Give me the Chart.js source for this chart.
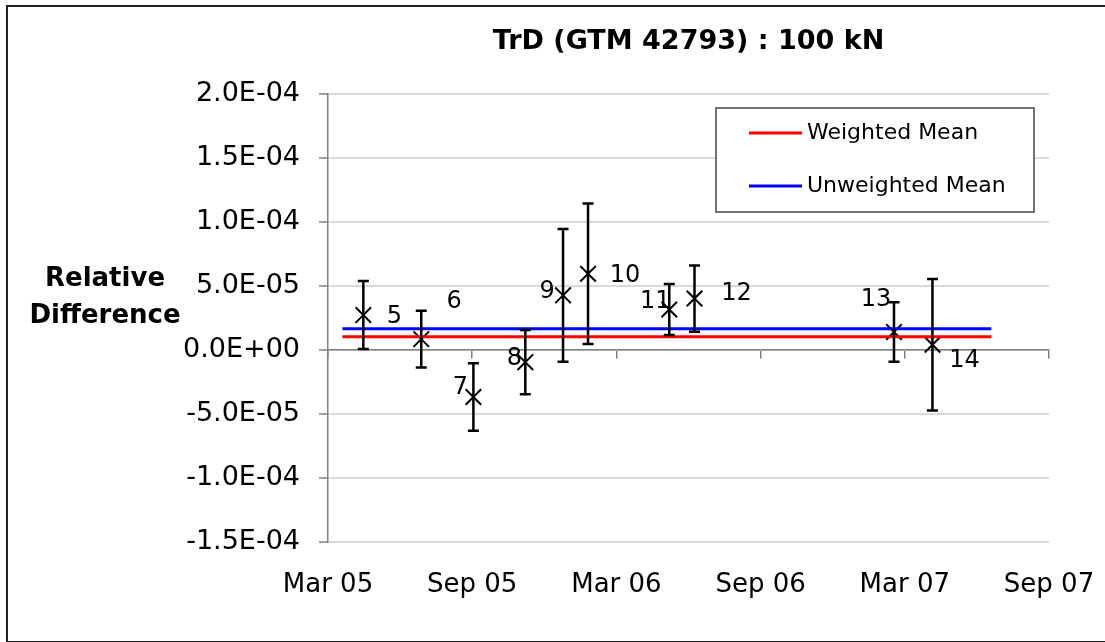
<!DOCTYPE html>
<html>
<head>
<meta charset="utf-8">
<style>
  html, body { margin: 0; padding: 0; background: #fff; }
  #wrap { width: 1105px; height: 642px; }
</style>
<script src="https://cdn.jsdelivr.net/npm/chart.js@4/dist/chart.umd.min.js"></script>
</head>
<body>
<div id="wrap"><canvas id="c" width="1105" height="642"></canvas></div>
<script>
// Measurement runs: x is months after 1 Mar 2005
const runIds = ['5', '6', '7', '8', '9', '10', '11', '12', '13', '14'];
const runMonths = [1.47, 3.88, 6.05, 8.21, 9.78, 10.82, 14.2, 15.25, 23.55, 25.15];
const relDiff = [2.73e-5, 0.85e-5, -3.67e-5, -0.95e-5, 4.27e-5, 5.96e-5, 3.16e-5, 4.02e-5, 1.41e-5, 0.41e-5];
const uncertainty = [2.66e-5, 2.21e-5, 2.63e-5, 2.51e-5, 5.18e-5, 5.49e-5, 1.99e-5, 2.59e-5, 2.32e-5, 5.14e-5];

// Mean lines and their extent (months)
const weightedMean = 1.04e-5;
const unweightedMean = 1.66e-5;
const meanSpan = [0.6, 27.6];

// Axis tick labels, every 6 months from Mar 05
const xTickLabels = ['Mar 05', 'Sep 05', 'Mar 06', 'Sep 06', 'Mar 07', 'Sep 07'];

// Offsets of the run-number labels from their marker (px)
const idOffsets = [[31, 2], [33, -37], [-13, -9], [-11, -3], [-16, -4], [37, 2], [-14, -8], [42, -5], [-18, -32], [32, 16]];

Chart.defaults.font.family = '"DejaVu Sans", Verdana, sans-serif';
Chart.defaults.color = '#000';

function sciLabel(v) {
  if (Math.abs(v) < 1e-12) return '0.0E+00';
  const parts = v.toExponential(1).split('e');
  const n = parseInt(parts[1], 10);
  return parts[0] + 'E' + (n < 0 ? '-' : '+') + String(Math.abs(n)).padStart(2, '0');
}

const frame = {
  id: 'frame',
  beforeDraw(chart) {
    const ctx = chart.ctx;
    ctx.save();
    ctx.fillStyle = '#fff';
    ctx.fillRect(0, 0, chart.width, chart.height);
    ctx.strokeStyle = '#222';
    ctx.lineWidth = 2;
    ctx.strokeRect(7, 6, chart.width + 10, chart.height - 6);
    ctx.restore();
  },
  afterDraw(chart) {
    const ctx = chart.ctx;
    const a = chart.chartArea;
    ctx.save();
    ctx.fillStyle = '#000';
    ctx.textAlign = 'center';
    ctx.textBaseline = 'middle';
    ctx.font = 'bold 27px "DejaVu Sans"';
    ctx.fillText('TrD (GTM 42793) : 100 kN', (a.left + a.right) / 2, 42);
    ctx.font = 'bold 26px "DejaVu Sans"';
    ctx.fillText('Relative', 105, 279);
    ctx.fillText('Difference', 105, 316);

    // legend box
    const bx = 716, by = 108, bw = 318, bh = 104;
    ctx.fillStyle = '#fff';
    ctx.fillRect(bx, by, bw, bh);
    ctx.strokeStyle = '#444';
    ctx.lineWidth = 1.5;
    ctx.strokeRect(bx, by, bw, bh);
    const items = [['Weighted Mean', '#ff0000', 25], ['Unweighted Mean', '#0000ff', 78]];
    ctx.font = '22px "DejaVu Sans"';
    ctx.textAlign = 'left';
    items.forEach(([label, col, dy]) => {
      ctx.strokeStyle = col;
      ctx.lineWidth = 3;
      ctx.beginPath();
      ctx.moveTo(bx + 33, by + dy);
      ctx.lineTo(bx + 86, by + dy);
      ctx.stroke();
      ctx.fillStyle = '#000';
      ctx.fillText(label, bx + 91, by + dy);
    });
    ctx.restore();
  }
};

const errorBars = {
  id: 'errorBars',
  afterDatasetsDraw(chart) {
    const ctx = chart.ctx;
    const x = chart.scales.x, y = chart.scales.y;
    ctx.save();
    ctx.strokeStyle = '#000';
    ctx.lineWidth = 2.5;
    runMonths.forEach((m, i) => {
      const px = x.getPixelForValue(m);
      const top = y.getPixelForValue(relDiff[i] + uncertainty[i]);
      const bot = y.getPixelForValue(relDiff[i] - uncertainty[i]);
      ctx.beginPath();
      ctx.moveTo(px, top); ctx.lineTo(px, bot);
      ctx.moveTo(px - 5.5, top); ctx.lineTo(px + 5.5, top);
      ctx.moveTo(px - 5.5, bot); ctx.lineTo(px + 5.5, bot);
      ctx.stroke();
    });
    ctx.fillStyle = '#000';
    ctx.font = '24px "DejaVu Sans"';
    ctx.textAlign = 'center';
    ctx.textBaseline = 'middle';
    runMonths.forEach((m, i) => {
      const px = x.getPixelForValue(m);
      const py = y.getPixelForValue(relDiff[i]);
      ctx.fillText(runIds[i], px + idOffsets[i][0], py + idOffsets[i][1]);
    });
    ctx.restore();
  }
};

function noSidePadding(s) {
  s.paddingLeft = 0;
  s.paddingRight = 0;
}

new Chart(document.getElementById('c'), {
  type: 'scatter',
  data: {
    datasets: [
      {
        label: 'Weighted Mean',
        type: 'line',
        data: meanSpan.map(m => ({ x: m, y: weightedMean })),
        borderColor: '#ff0000',
        borderWidth: 3,
        pointRadius: 0
      },
      {
        label: 'Unweighted Mean',
        type: 'line',
        data: meanSpan.map(m => ({ x: m, y: unweightedMean })),
        borderColor: '#0000ff',
        borderWidth: 3,
        pointRadius: 0
      },
      {
        label: 'Runs',
        data: runMonths.map((m, i) => ({ x: m, y: relDiff[i] })),
        pointStyle: 'crossRot',
        pointRadius: 11,
        pointHoverRadius: 11,
        borderColor: '#000',
        borderWidth: 2,
        showLine: false
      }
    ]
  },
  options: {
    responsive: false,
    animation: false,
    events: [],
    layout: { padding: { left: 0, right: 56, top: 94, bottom: 0 } },
    plugins: { legend: { display: false }, title: { display: false }, tooltip: { enabled: false } },
    scales: {
      x: {
        type: 'linear',
        position: 'bottom',
        min: 0,
        max: 30,
        grid: { display: false, drawTicks: false },
        border: { display: false },
        ticks: {
          stepSize: 6,
          autoSkip: false,
          maxRotation: 0,
          padding: 28,
          font: { size: 26 },
          callback: v => xTickLabels[Math.round(v / 6)]
        },
        afterFit(s) { s.height = 100; noSidePadding(s); }
      },
      xZero: {
        type: 'linear',
        position: { y: 0 },
        min: 0,
        max: 30,
        grid: { drawOnChartArea: false, tickLength: 8, color: '#808080', lineWidth: 1.5 },
        border: { color: '#808080', width: 1.5 },
        ticks: { stepSize: 6, display: false },
        afterFit(s) { noSidePadding(s); }
      },
      y: {
        type: 'linear',
        min: -1.5e-4,
        max: 2e-4,
        grid: { color: '#d9d9d9', lineWidth: 2, tickColor: '#808080', tickLength: 9, tickWidth: 1.5 },
        border: { color: '#808080', width: 1.5 },
        ticks: { stepSize: 5e-5, padding: 19, font: { size: 27 }, callback: v => sciLabel(v) },
        afterFit(s) { s.width = 328; }
      }
    }
  },
  plugins: [frame, errorBars]
});
</script>
</body>
</html>
